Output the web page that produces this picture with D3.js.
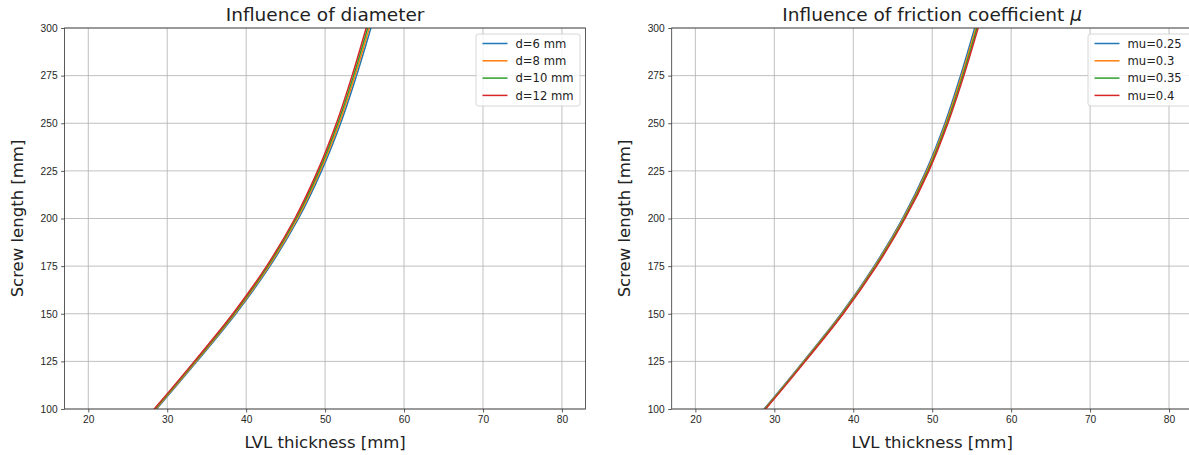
<!DOCTYPE html>
<html lang="en">
<head>
<meta charset="UTF-8">
<title>Screw length vs LVL thickness</title>
<script src="https://cdn.jsdelivr.net/npm/d3@7"></script>
<style>
  body { margin: 0; background: #fff; }
  svg { display: block; font-family: "DejaVu Sans", sans-serif; }
  .tick text { fill: #262626; font-size: 10.2px; }
</style>
</head>
<body>
<div id="chart"></div>
<script>
// screw length levels (y) and LVL thickness (x) read for each curve
const lengths = [80, 100, 125, 150, 175, 200, 225, 250, 275, 300, 325];

const dNames = ["d=6 mm", "d=8 mm", "d=10 mm", "d=12 mm"];
const d6  = [24.43, 28.65, 33.77, 38.69, 43.01, 46.63, 49.55, 51.97, 53.98, 55.80, 57.52];
const d8  = [24.34, 28.55, 33.66, 38.56, 42.87, 46.48, 49.38, 51.79, 53.79, 55.60, 57.31];
const d10 = [24.26, 28.45, 33.54, 38.44, 42.73, 46.32, 49.22, 51.61, 53.61, 55.40, 57.09];
const d12 = [24.17, 28.35, 33.43, 38.31, 42.59, 46.17, 49.05, 51.43, 53.42, 55.20, 56.88];

const muNames = ["mu=0.25", "mu=0.3", "mu=0.35", "mu=0.4"];
const mu025 = [24.51, 28.70, 33.68, 38.47, 42.65, 46.24, 49.22, 51.61, 53.59, 55.38, 57.06];
const mu030 = [24.57, 28.77, 33.76, 38.56, 42.75, 46.35, 49.34, 51.74, 53.73, 55.53, 57.22];
const mu035 = [24.63, 28.83, 33.84, 38.64, 42.85, 46.45, 49.46, 51.86, 53.87, 55.67, 57.38];
const mu040 = [24.69, 28.90, 33.92, 38.73, 42.95, 46.56, 49.58, 51.99, 54.01, 55.82, 57.54];

const xTicks = [20, 30, 40, 50, 60, 70, 80];
const yTicks = [100, 125, 150, 175, 200, 225, 250, 275, 300];
const colors = ["#1f77b4", "#ff7f0e", "#2ca02c", "#d62728"];

const W = 1189, H = 455;
const svg = d3.select("#chart").append("svg")
    .attr("width", W)
    .attr("height", H);

function panel(left, title, names, series, legendX) {
    const w = 521, top = 28, h = 381;
    const x = d3.scaleLinear().domain([17, 83]).range([left, left + w]);
    const y = d3.scaleLinear().domain([100, 300]).range([top + h, top]);
    const g = svg.append("g");
    const clipId = "clip" + Math.round(left);

    g.append("clipPath").attr("id", clipId)
        .append("rect")
        .attr("x", left).attr("y", top).attr("width", w).attr("height", h);

    // grid
    g.append("g").selectAll("line")
        .data(xTicks).enter().append("line")
        .attr("x1", d => x(d)).attr("x2", d => x(d))
        .attr("y1", top).attr("y2", top + h)
        .attr("stroke", "#b0b0b0").attr("stroke-width", 0.8);
    g.append("g").selectAll("line")
        .data(yTicks).enter().append("line")
        .attr("x1", left).attr("x2", left + w)
        .attr("y1", d => y(d)).attr("y2", d => y(d))
        .attr("stroke", "#b0b0b0").attr("stroke-width", 0.8);

    // curves
    const line = d3.line()
        .x(d => x(d[0]))
        .y(d => y(d[1]))
        .curve(d3.curveMonotoneY);
    g.append("g").attr("clip-path", "url(#" + clipId + ")")
        .selectAll("path")
        .data(series).enter().append("path")
        .attr("d", s => line(s.map((v, i) => [v, lengths[i]])))
        .attr("fill", "none")
        .attr("stroke", (s, i) => colors[i])
        .attr("stroke-width", 1.5);

    // axes
    const xAxis = d3.axisBottom(x).tickValues(xTicks).tickSize(3.5).tickPadding(3.5);
    const yAxis = d3.axisLeft(y).tickValues(yTicks).tickSize(3.5).tickPadding(3.5);
    g.append("g")
        .attr("transform", "translate(0," + (top + h) + ")")
        .call(xAxis)
        .call(a => a.select(".domain").remove());
    g.append("g")
        .attr("transform", "translate(" + left + ",0)")
        .call(yAxis)
        .call(a => a.select(".domain").remove());
    g.selectAll(".tick line").attr("stroke", "#333").attr("stroke-width", 0.8);

    // spines
    g.append("rect")
        .attr("x", left).attr("y", top).attr("width", w).attr("height", h)
        .attr("fill", "none").attr("stroke", "#333").attr("stroke-width", 0.8);

    // labels
    g.append("text")
        .attr("x", left + w / 2).attr("y", 21)
        .attr("text-anchor", "middle")
        .attr("font-size", 18.5).attr("fill", "#222")
        .html(title);
    g.append("text")
        .attr("x", left + w / 2).attr("y", top + h + 39)
        .attr("text-anchor", "middle")
        .attr("font-size", 16.5).attr("fill", "#222")
        .text("LVL thickness [mm]");
    g.append("text")
        .attr("transform", "translate(" + (left - 41.5) + "," + (top + h / 2) + ") rotate(-90)")
        .attr("text-anchor", "middle")
        .attr("font-size", 16.5).attr("fill", "#222")
        .text("Screw length [mm]");

    // legend
    const lg = g.append("g").attr("transform", "translate(" + legendX + ",34)");
    lg.append("rect")
        .attr("width", 104).attr("height", 72).attr("rx", 2.5)
        .attr("fill", "#fff").attr("fill-opacity", 0.8)
        .attr("stroke", "#cccccc").attr("stroke-width", 0.8);
    const rows = lg.selectAll("g")
        .data(names).enter().append("g")
        .attr("transform", (d, i) => "translate(0," + (9.5 + i * 17.3) + ")");
    rows.append("line")
        .attr("x1", 6.5).attr("x2", 31.5)
        .attr("stroke", (d, i) => colors[i]).attr("stroke-width", 1.5);
    rows.append("text")
        .attr("x", 39.5).attr("y", 4.2)
        .attr("font-size", 11.6).attr("fill", "#222")
        .text(d => d);
}

panel(64.6, "Influence of diameter", dNames, [d6, d8, d10, d12], 476);
panel(671.7, "Influence of friction coefficient <tspan font-style='italic'>μ</tspan>",
      muNames, [mu025, mu030, mu035, mu040], 1088);
</script>
</body>
</html>
